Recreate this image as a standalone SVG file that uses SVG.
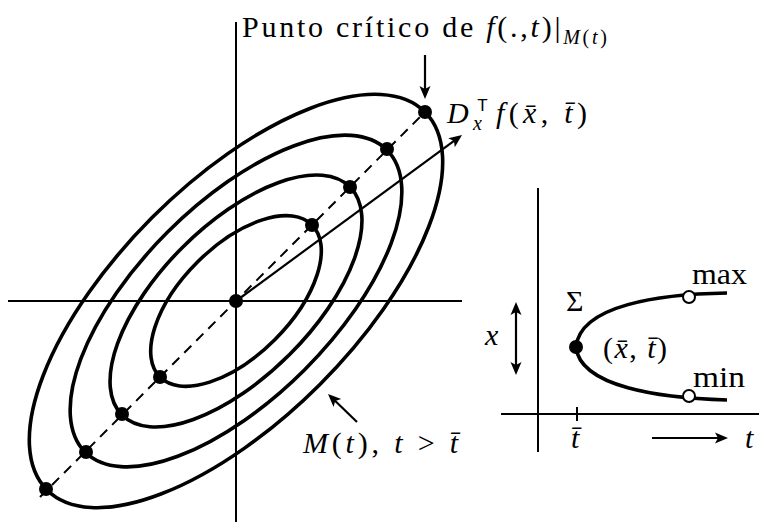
<svg xmlns="http://www.w3.org/2000/svg" width="759" height="524" viewBox="0 0 759 524">
<style>
.ax{stroke:#000;stroke-width:2;fill:none}
.el{stroke:#000;stroke-width:3.6;fill:none}
.dash{stroke:#000;stroke-width:2;fill:none;stroke-dasharray:10 7}
.arr{stroke:#000;stroke-width:2.2;fill:none}
.dot{fill:#000}
.odot{fill:#fff;stroke:#000;stroke-width:2}
.i{font-style:italic}
.s{font-size:20px}
</style>
<defs>
<marker id="ah" viewBox="-10 -6 15 12" refX="0" refY="0" markerWidth="15" markerHeight="12" orient="auto-start-reverse" markerUnits="userSpaceOnUse">
<path d="M-9,-5.5 L4,0 L-9,5.5 L-6,0 z" fill="#000"/>
</marker>
</defs>
<g id="axes-left">
<line class="ax" x1="8" y1="301" x2="462" y2="301"/>
<line class="ax" x1="236" y1="22" x2="236" y2="522"/>
</g>
<g id="ellipses" transform="translate(236,301) rotate(-45)">
<ellipse class="el" cx="0" cy="0" rx="107.5" ry="54.8"/>
<ellipse class="el" cx="0" cy="0" rx="161.2" ry="75.8"/>
<ellipse class="el" cx="0" cy="0" rx="213.5" ry="97.1"/>
<ellipse class="el" cx="0" cy="0" rx="267.3" ry="118.3"/>
</g>
<g id="connectors">
<line class="dash" x1="40" y1="497" x2="425" y2="112"/>
<line class="arr" x1="236" y1="301" x2="458.8" y2="137.4" marker-end="url(#ah)"/>
<line class="arr" x1="425" y1="55" x2="425" y2="95" marker-end="url(#ah)"/>
<line class="arr" x1="357" y1="422" x2="330.9" y2="396.8" marker-end="url(#ah)"/>
<line class="arr" x1="516" y1="306" x2="516" y2="371" marker-start="url(#ah)" marker-end="url(#ah)"/>
<line class="arr" x1="652" y1="438" x2="724" y2="438" marker-end="url(#ah)"/>
</g>
<g id="dots">
<circle class="dot" cx="236" cy="301" r="7"/>
<circle class="dot" cx="312" cy="225" r="7"/>
<circle class="dot" cx="160" cy="377" r="7"/>
<circle class="dot" cx="350" cy="187" r="7"/>
<circle class="dot" cx="122" cy="414" r="7"/>
<circle class="dot" cx="387" cy="149" r="7"/>
<circle class="dot" cx="86" cy="452" r="7"/>
<circle class="dot" cx="425" cy="112" r="7"/>
<circle class="dot" cx="46" cy="489" r="7"/>
</g>
<g font-family="'Liberation Serif', 'Times New Roman', serif" font-size="30" fill="#000">
<g id="label-top">
<text x="242" y="37" textLength="365" lengthAdjust="spacing">Punto crítico de <tspan class="i">f</tspan>(.,<tspan class="i">t</tspan>)|<tspan class="i s" dy="7">M</tspan><tspan class="s">(</tspan><tspan class="i s">t</tspan><tspan class="s">)</tspan></text>
</g>
<g id="label-grad">
<text x="447" y="123" textLength="140" lengthAdjust="spacing"><tspan class="i">D</tspan><tspan class="i s" dy="7">x</tspan><tspan font-family="'Liberation Sans', sans-serif" font-size="17" dx="-9" dy="-19">T</tspan><tspan class="i" dx="4" dy="12">f</tspan>(<tspan class="i">x̄</tspan>, <tspan class="i">t̄</tspan>)</text>
</g>
<g id="label-M">
<text x="303" y="453" textLength="155" lengthAdjust="spacing"><tspan class="i">M</tspan>(<tspan class="i">t</tspan>),  <tspan class="i">t</tspan> &gt; <tspan class="i">t̄</tspan></text>
</g>
<g id="labels-right">
<text x="566" y="311">Σ</text>
<text x="603" y="358" textLength="64" lengthAdjust="spacing">(<tspan class="i">x̄</tspan>, <tspan class="i">t̄</tspan>)</text>
<text x="692" y="284" textLength="55" lengthAdjust="spacingAndGlyphs">max</text>
<text x="693" y="387" textLength="52" lengthAdjust="spacingAndGlyphs">min</text>
<text x="485" y="345" class="i">x</text>
<text x="571" y="448" class="i">t̄</text>
<text x="745" y="448" class="i">t</text>
</g>
</g>
<g id="plot-right">
<line class="ax" x1="538" y1="188" x2="538" y2="452"/>
<line class="ax" x1="501" y1="414" x2="759" y2="414"/>
<line class="ax" x1="577" y1="407" x2="577" y2="421"/>
<path class="el" d="M727,293 C660,294 580,305 576,347 C580,387 660,398 727,400"/>
<circle class="dot" cx="576" cy="347" r="7"/>
<circle class="odot" cx="689" cy="297" r="6"/>
<circle class="odot" cx="689" cy="396" r="6"/>
</g>
</svg>
